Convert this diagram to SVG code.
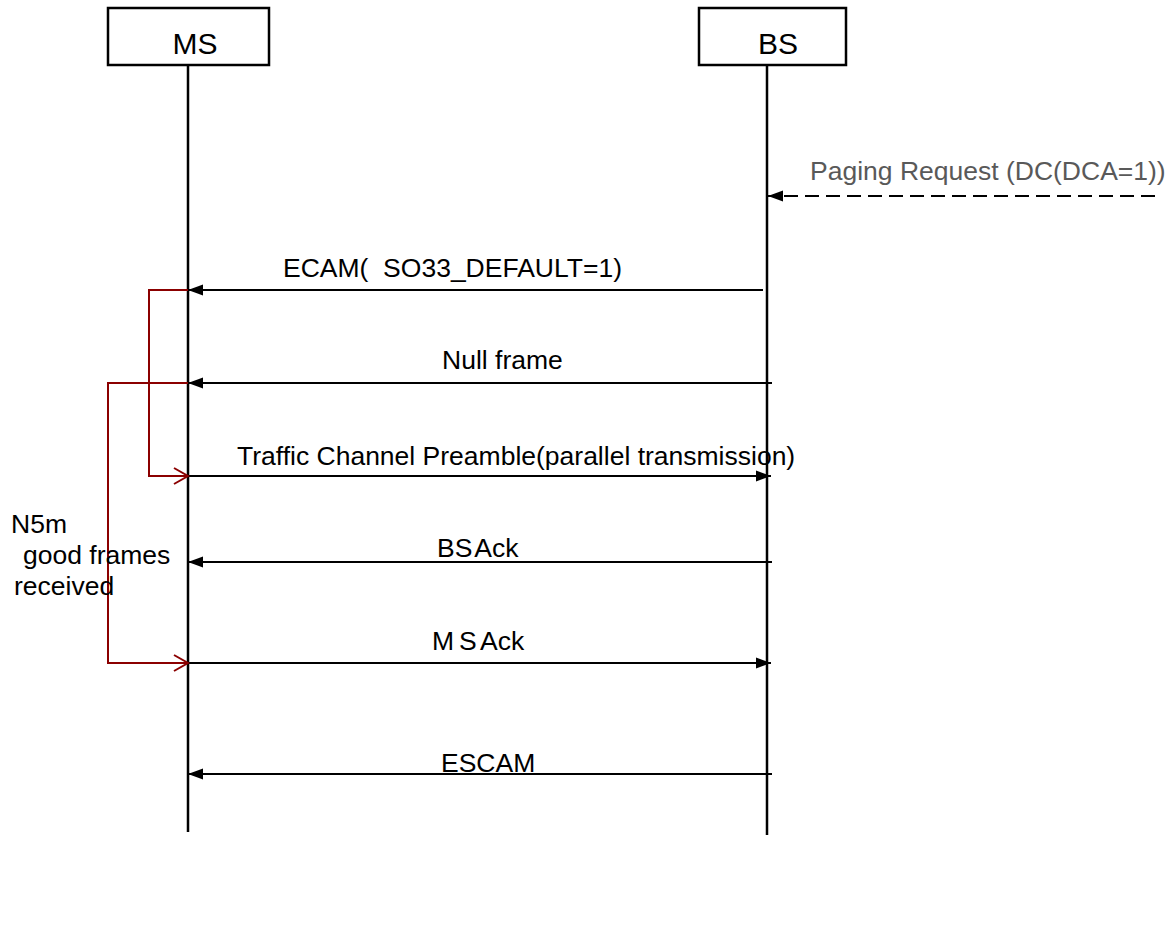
<svg xmlns="http://www.w3.org/2000/svg" width="1174" height="952" viewBox="0 0 1174 952">
<style>
  text { font-family: "Liberation Sans", Arial, sans-serif; font-size: 26.5px; fill: #000; }
  .hdr { font-size: 30px; text-anchor: middle; }
  .gray { fill: #595959; }
  .box { fill: #fff; stroke: #000; stroke-width: 2.5; }
  .life { stroke: #000; stroke-width: 2.5; fill: none; }
  .msg { stroke: #000; stroke-width: 2.2; fill: none; marker-end: url(#arrowFilled); }
  .dash { stroke-dasharray: 14 7; }
  .loop { stroke: #8B0000; stroke-width: 2; fill: none; marker-end: url(#arrowOpen); }
</style>
<defs>
  <marker id="arrowFilled" markerUnits="userSpaceOnUse" markerWidth="16" markerHeight="12" refX="15" refY="6" orient="auto">
    <path d="M0,0.5 L15,6 L0,11.5 z" fill="#000"/>
  </marker>
  <marker id="arrowOpen" markerUnits="userSpaceOnUse" markerWidth="18" markerHeight="20" refX="15" refY="9" orient="auto">
    <path d="M1,1 L15,9 L1,17" fill="none" stroke="#8B0000" stroke-width="2"/>
  </marker>
</defs>
<rect width="1174" height="952" fill="#fff"/>
<g id="node-MS">
  <rect class="box" x="108" y="8" width="161" height="57"/>
  <line class="life" x1="188" y1="65" x2="188" y2="832"/>
  <text class="hdr" x="195" y="54">MS</text>
</g>
<g id="node-BS">
  <rect class="box" x="699" y="8" width="147" height="57"/>
  <line class="life" x1="767" y1="65" x2="767" y2="835"/>
  <text class="hdr" x="778" y="54">BS</text>
</g>
<g id="connectors">
  <path class="msg dash" d="M1155,196 L768,196"/>
  <path class="msg" d="M763,290 L188,290"/>
  <path class="msg" d="M772,383 L188,383"/>
  <path class="msg" d="M188,476 L771,476"/>
  <path class="msg" d="M772,562 L188,562"/>
  <path class="msg" d="M188,663 L771,663"/>
  <path class="msg" d="M772,774 L188,774"/>
  <path class="loop" d="M188,290 L149,290 L149,476 L188,476"/>
  <path class="loop" d="M188,383 L108,383 L108,663 L188,663"/>
</g>
<g id="labels">
  <text class="gray" x="810" y="180">Paging Request (DC(DCA=1))</text>
  <text x="283" y="277" xml:space="preserve">ECAM(  SO33_DEFAULT=1)</text>
  <text x="442" y="369">Null frame</text>
  <text x="237" y="465">Traffic Channel Preamble(parallel transmission)</text>
  <text x="437" y="557" word-spacing="-4">BS Ack</text>
  <text x="432" y="650" word-spacing="-2.5">M S Ack</text>
  <text x="441" y="772">ESCAM</text>
  <text x="11" y="533">N5m</text>
  <text x="23" y="564">good frames</text>
  <text x="14" y="595">received</text>
</g>
</svg>
